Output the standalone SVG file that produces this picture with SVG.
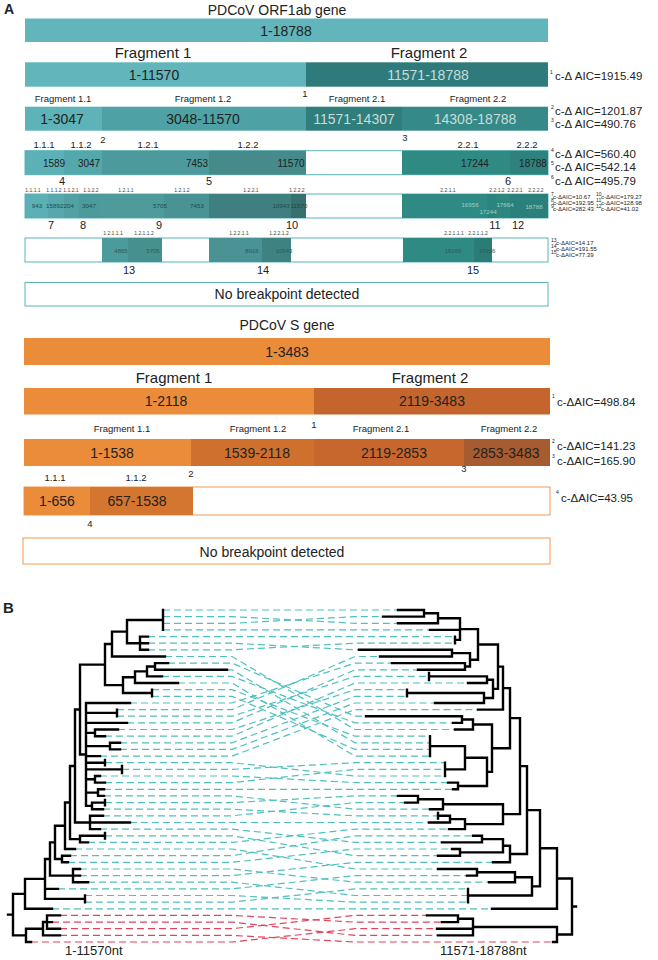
<svg xmlns="http://www.w3.org/2000/svg" width="658" height="960" viewBox="0 0 658 960">
<style>
text{font-family:"Liberation Sans",Arial,sans-serif;fill:#222}
.c{text-anchor:middle}
.h{font-size:14px}
.f{font-size:15px}
.s{font-size:9.5px}
.n{font-size:11px}
.a{font-size:11.5px}
.ts{font-size:5px;fill:#444}
.tn{font-size:6.2px;fill:#1f4a4a}
.tt{font-size:6px}
.sup{font-size:5px}
.lt{fill:#c8dcdb}
.ob{fill:#fff;stroke:#5ab4b8;stroke-width:1}
.oo{fill:#fff;stroke:#ee9a55;stroke-width:1}
.tree{fill:none;stroke:#000;stroke-width:2.4;stroke-linecap:square}
.cy{fill:none;stroke:#4fc0bd;stroke-width:1.2;stroke-dasharray:7 4}
.rd{fill:none;stroke:#e0475c;stroke-width:1.2;stroke-dasharray:7 4}
</style>

<g id="labelA"><text x="4" y="14" font-size="14" font-weight="bold">A</text></g>
<g id="labelB"><text x="3" y="613" font-size="15" font-weight="bold">B</text></g>

<g id="orf-title"><text x="277" y="15" class="c h">PDCoV ORF1ab gene</text></g>
<g id="orf-row0"><rect x="25" y="18.5" width="523" height="23.5" fill="#62b5bb"/><text x="286" y="35.5" class="c h">1-18788</text></g>
<g id="orf-frag-labels"><text x="153" y="58" class="c f">Fragment 1</text><text x="429" y="58" class="c f">Fragment 2</text></g>
<g id="orf-row1">
<rect x="25" y="62.3" width="281" height="24.4" fill="#62b5bb"/>
<rect x="306" y="62.3" width="242" height="24.4" fill="#2f7b7b"/>
<text x="154" y="80" class="c h">1-11570</text><text x="428" y="80" class="c h lt">11571-18788</text>
<text x="550" y="74" class="sup">1</text><text x="555" y="80" class="a">c-Δ AIC=1915.49</text>
</g>
<g id="orf-row2-labels">
<text x="63" y="102" class="c s">Fragment 1.1</text><text x="203" y="102" class="c s">Fragment 1.2</text>
<text x="305" y="97" class="c s">1</text>
<text x="357" y="102" class="c s">Fragment 2.1</text><text x="478" y="102" class="c s">Fragment 2.2</text>
</g>
<g id="orf-row2">
<rect x="25" y="106.7" width="77" height="24" fill="#5db3b8"/>
<rect x="102" y="106.7" width="204" height="24" fill="#4ea2a5"/>
<rect x="306" y="106.7" width="96" height="24" fill="#2f7e7c"/>
<rect x="402" y="106.7" width="146" height="24" fill="#358a87"/>
<text x="62" y="124" class="c h">1-3047</text><text x="203" y="124" class="c h">3048-11570</text>
<text x="354" y="124" class="c h lt">11571-14307</text><text x="475" y="124" class="c h lt">14308-18788</text>
<text x="551" y="109" class="sup">2</text><text x="555" y="115" class="a">c-Δ AIC=1201.87</text>
<text x="551" y="122" class="sup">3</text><text x="555" y="128" class="a">c-Δ AIC=490.76</text>
</g>
<g id="orf-row3-labels">
<text x="44" y="148" class="c s">1.1.1</text><text x="81" y="148" class="c s">1.1.2</text>
<text x="103" y="143" class="c s">2</text>
<text x="148" y="148" class="c s">1.2.1</text><text x="248" y="148" class="c s">1.2.2</text>
<text x="405" y="141" class="c s">3</text>
<text x="468" y="148" class="c s">2.2.1</text><text x="527" y="148" class="c s">2.2.2</text>
</g>
<g id="orf-row3">
<rect x="25" y="150.7" width="523" height="24" class="ob"/>
<rect x="25" y="150.7" width="39" height="24" fill="#5cb1b7"/>
<rect x="64" y="150.7" width="38" height="24" fill="#54a7ab"/>
<rect x="102" y="150.7" width="107" height="24" fill="#4d9a9c"/>
<rect x="209" y="150.7" width="97" height="24" fill="#468a8b"/>
<rect x="402" y="150.7" width="108" height="24" fill="#2f8a84"/>
<rect x="510" y="150.7" width="38" height="24" fill="#2d827d"/>
<text x="54" y="166.5" class="c" font-size="10">1589</text><text x="89" y="166.5" class="c" font-size="10">3047</text>
<text x="197" y="166.5" class="c" font-size="10">7453</text><text x="291" y="166.5" class="c" font-size="10">11570</text>
<text x="475" y="166.5" class="c" font-size="10">17244</text><text x="533" y="166.5" class="c" font-size="10">18788</text>
<text x="551" y="152" class="sup">4</text><text x="555" y="158" class="a">c-Δ AIC=560.40</text>
<text x="551" y="165" class="sup">5</text><text x="555" y="171" class="a">c-Δ AIC=542.14</text>
<text x="551" y="179" class="sup">6</text><text x="555" y="185" class="a">c-Δ AIC=495.79</text>
</g>
<g id="orf-bp-4-6"><text x="62" y="185" class="c n">4</text><text x="209" y="185" class="c n">5</text><text x="508" y="185" class="c n">6</text></g>
<g id="orf-row4-labels">
<text x="33" y="191.5" class="c ts">1.1.1.1</text><text x="54" y="191.5" class="c ts">1.1.1.2</text>
<text x="71" y="191.5" class="c ts">1.1.2.1</text><text x="91" y="191.5" class="c ts">1.1.2.2</text>
<text x="126" y="191.5" class="c ts">1.2.1.1</text><text x="182" y="191.5" class="c ts">1.2.1.2</text>
<text x="251" y="191.5" class="c ts">1.2.2.1</text><text x="297" y="191.5" class="c ts">1.2.2.2</text>
<text x="448" y="191.5" class="c ts">2.2.1.1</text><text x="497" y="191.5" class="c ts">2.2.1.2</text>
<text x="515" y="191.5" class="c ts">2.2.2.1</text><text x="536" y="191.5" class="c ts">2.2.2.2</text>
</g>
<g id="orf-row4">
<rect x="25" y="194" width="523" height="24" class="ob"/>
<rect x="25" y="194" width="23" height="24" fill="#5cb0b5"/>
<rect x="48" y="194" width="16" height="24" fill="#56a8ac"/>
<rect x="64" y="194" width="15" height="24" fill="#51a1a5"/>
<rect x="79" y="194" width="23" height="24" fill="#4d9a9d"/>
<rect x="102" y="194" width="62" height="24" fill="#4f9b9c"/>
<rect x="164" y="194" width="45" height="24" fill="#4a9394"/>
<rect x="209" y="194" width="82" height="24" fill="#407f80"/>
<rect x="291" y="194" width="15" height="24" fill="#37706f"/>
<rect x="402" y="194" width="85" height="24" fill="#2e8a83"/>
<rect x="487" y="194" width="9" height="24" fill="#2c847e"/>
<rect x="496" y="194" width="14" height="24" fill="#2e877f"/>
<rect x="510" y="194" width="38" height="24" fill="#2c807b"/>
<text x="37" y="208" class="c tn">943</text><text x="53" y="208" class="c tn">1589</text>
<text x="67" y="208" class="c tn">2204</text><text x="89" y="208" class="c tn">3047</text>
<text x="160" y="208" class="c tn">5705</text><text x="197" y="208" class="c tn">7453</text>
<text x="281" y="208" class="c tn">10943</text><text x="299" y="208" class="c tn">11570</text>
<text x="470" y="207" class="c tn" style="fill:#9fcfca">16956</text><text x="505" y="207" class="c tn" style="fill:#9fcfca">17664</text>
<text x="488" y="213.5" class="c tn" style="fill:#9fcfca">17244</text><text x="534" y="209" class="c tn" style="fill:#9fcfca">18788</text>
<text x="551" y="196" class="sup" font-size="4">7</text><text x="553" y="199" class="tt">c-ΔAIC=10.67</text>
<text x="551" y="202" class="sup" font-size="4">8</text><text x="553" y="205" class="tt">c-ΔAIC=192.95</text>
<text x="551" y="208" class="sup" font-size="4">9</text><text x="553" y="211" class="tt">c-ΔAIC=282.43</text>
<text x="596" y="196" class="sup" font-size="4">10</text><text x="601" y="199" class="tt">c-ΔAIC=179.27</text>
<text x="596" y="202" class="sup" font-size="4">11</text><text x="601" y="205" class="tt">c-ΔAIC=128.98</text>
<text x="596" y="208" class="sup" font-size="4">12</text><text x="601" y="211" class="tt">c-ΔAIC=41.02</text>
</g>
<g id="orf-bp-7-12">
<text x="51" y="229" class="c n">7</text><text x="83" y="229" class="c n">8</text><text x="159" y="229" class="c n">9</text>
<text x="292" y="229" class="c n">10</text><text x="495" y="229" class="c n">11</text><text x="518" y="229" class="c n">12</text>
</g>
<g id="orf-row5-labels">
<text x="113" y="235" class="c ts">1.2.1.1.1</text><text x="144" y="235" class="c ts">1.2.1.1.2</text>
<text x="239" y="235" class="c ts">1.2.2.1.1</text><text x="279" y="235" class="c ts">1.2.2.1.2</text>
<text x="454" y="235" class="c ts">2.2.1.1.1</text><text x="478" y="235" class="c ts">2.2.1.1.2</text>
</g>
<g id="orf-row5">
<rect x="25" y="238" width="523" height="24" class="ob"/>
<rect x="102" y="238" width="26" height="24" fill="#4c9b9c"/>
<rect x="128" y="238" width="34" height="24" fill="#479090"/>
<rect x="209" y="238" width="53" height="24" fill="#4a9293"/>
<rect x="262" y="238" width="29" height="24" fill="#3f8282"/>
<rect x="403" y="238" width="71" height="24" fill="#2e8a83"/>
<rect x="474" y="238" width="18" height="24" fill="#2a7d77"/>
<text x="121" y="252.5" class="c tt" style="fill:#2b5a5a">4865</text><text x="153" y="252.5" class="c tt" style="fill:#2b5a5a">5705</text>
<text x="252" y="252.5" class="c tt" style="fill:#2b5a5a">8916</text><text x="284" y="252.5" class="c tt" style="fill:#2b5a5a">10943</text>
<text x="453" y="252.5" class="c tt" style="fill:#2b5a5a">16160</text><text x="487" y="252.5" class="c tt" style="fill:#2b5a5a">16956</text>
<text x="551" y="242" class="sup" font-size="4">13</text><text x="556" y="245" class="tt">c-ΔAIC=14.17</text>
<text x="551" y="248" class="sup" font-size="4">14</text><text x="556" y="251" class="tt">c-ΔAIC=191.55</text>
<text x="551" y="254" class="sup" font-size="4">15</text><text x="556" y="257" class="tt">c-ΔAIC=77.39</text>
</g>
<g id="orf-bp-13-15"><text x="129" y="274" class="c n">13</text><text x="263" y="274" class="c n">14</text><text x="473" y="274" class="c n">15</text></g>
<g id="orf-nobp"><rect x="25" y="282.5" width="523" height="23.5" class="ob"/><text x="287" y="299" class="c h">No breakpoint detected</text></g>

<g id="s-title"><text x="287" y="330" class="c h">PDCoV S gene</text></g>
<g id="s-row0"><rect x="24" y="338" width="526" height="27" fill="#ea8c3a"/><text x="287" y="357" class="c h">1-3483</text></g>
<g id="s-frag-labels"><text x="174" y="383" class="c f">Fragment 1</text><text x="430" y="383" class="c f">Fragment 2</text></g>
<g id="s-row1">
<rect x="24" y="388" width="290" height="26.5" fill="#ea8c3a"/>
<rect x="314" y="388" width="236" height="26.5" fill="#c4652e"/>
<text x="166" y="406" class="c h">1-2118</text><text x="432" y="406" class="c h">2119-3483</text>
<text x="552" y="398" class="sup">1</text><text x="557" y="406" class="a">c-ΔAIC=498.84</text>
</g>
<g id="s-row2-labels">
<text x="122" y="432" class="c s">Fragment 1.1</text><text x="258" y="432" class="c s">Fragment 1.2</text>
<text x="314" y="428" class="c s">1</text>
<text x="381" y="432" class="c s">Fragment 2.1</text><text x="509" y="432" class="c s">Fragment 2.2</text>
</g>
<g id="s-row2">
<rect x="24" y="439" width="167" height="27" fill="#ea8c3a"/>
<rect x="191" y="439" width="123" height="27" fill="#cf702f"/>
<rect x="314" y="439" width="150" height="27" fill="#c8672d"/>
<rect x="464" y="439" width="86" height="27" fill="#a75b30"/>
<text x="112" y="458" class="c h">1-1538</text><text x="257" y="458" class="c h">1539-2118</text>
<text x="394" y="458" class="c h">2119-2853</text><text x="506" y="458" class="c h">2853-3483</text>
<text x="552" y="443" class="sup">2</text><text x="557" y="450" class="a">c-ΔAIC=141.23</text>
<text x="552" y="458" class="sup">3</text><text x="557" y="465" class="a">c-ΔAIC=165.90</text>
</g>
<g id="s-row3-labels">
<text x="55" y="481" class="c s">1.1.1</text><text x="136" y="481" class="c s">1.1.2</text>
<text x="191" y="477" class="c s">2</text><text x="464" y="472" class="c s">3</text>
</g>
<g id="s-row3">
<rect x="24" y="487" width="526" height="28" class="oo"/>
<rect x="24" y="487" width="66" height="28" fill="#ea8c3a"/>
<rect x="90" y="487" width="103" height="28" fill="#d4762f"/>
<text x="57" y="506" class="c h">1-656</text><text x="137" y="506" class="c h">657-1538</text>
<text x="556" y="494" class="sup">4</text><text x="561" y="502" class="a">c-ΔAIC=43.95</text>
</g>
<g id="s-bp-4"><text x="90" y="527" class="c s">4</text></g>
<g id="s-nobp"><rect x="23" y="538" width="527" height="26" class="oo"/><text x="272" y="557" class="c h">No breakpoint detected</text></g>

<g id="connectors">
<path class="cy" d="M163 610H232L355 610H398"/>
<path class="cy" d="M163 616.6H232L355 623.3H398"/>
<path class="cy" d="M163 623.3H232L355 616.6H383"/>
<path class="cy" d="M163 629.9H232L355 629.9H430"/>
<path class="cy" d="M148 636.6H232L355 636.6H455"/>
<path class="cy" d="M148 643.2H232L355 649.8H359"/>
<path class="cy" d="M148 649.8H232L355 643.2H455"/>
<path class="cy" d="M165 656.5H232L355 729.5H455"/>
<path class="cy" d="M168 663.1H232L355 716.2H366"/>
<path class="cy" d="M227 669.8H232L355 742.8H430"/>
<path class="cy" d="M162 676.4H232L355 722.9H453"/>
<path class="cy" d="M178 683H232L355 756.1H430"/>
<path class="cy" d="M152 689.7H232L355 736.2H430"/>
<path class="cy" d="M152 696.3H232L355 749.4H430"/>
<path class="cy" d="M130 703H232L355 663.1H392"/>
<path class="cy" d="M117 709.6H232L355 656.5H380"/>
<path class="cy" d="M117 716.2H232L355 676.4H429"/>
<path class="cy" d="M127 722.9H232L355 669.8H418"/>
<path class="cy" d="M118 729.5H232L355 689.7H407"/>
<path class="cy" d="M105 736.2H232L355 683H468"/>
<path class="cy" d="M120 742.8H232L355 696.3H407"/>
<path class="cy" d="M120 749.4H232L355 703H435"/>
<path class="cy" d="M100 756.1H232L355 709.6H478"/>
<path class="cy" d="M105 762.7H232L355 776H445"/>
<path class="cy" d="M122 769.4H232L355 762.7H445"/>
<path class="cy" d="M100 776H232L355 782.6H448"/>
<path class="cy" d="M105 782.6H232L355 769.4H445"/>
<path class="cy" d="M104 789.3H232L355 789.3H453"/>
<path class="cy" d="M104 795.9H232L355 809.2H430"/>
<path class="cy" d="M105 802.6H232L355 795.9H398"/>
<path class="cy" d="M103 809.2H232L355 815.8H438"/>
<path class="cy" d="M103 815.8H232L355 802.6H405"/>
<path class="cy" d="M130 822.5H232L355 822.5H429"/>
<path class="cy" d="M100 829.1H232L355 842.4H442"/>
<path class="cy" d="M105 835.8H232L355 855.7H438"/>
<path class="cy" d="M88 842.4H232L355 829.1H449"/>
<path class="cy" d="M75 849H232L355 869H438"/>
<path class="cy" d="M70 855.7H232L355 835.8H473"/>
<path class="cy" d="M68 862.3H232L355 849H452"/>
<path class="cy" d="M80 869H232L355 882.2H489"/>
<path class="cy" d="M80 875.6H232L355 862.3H493"/>
<path class="cy" d="M88 882.2H232L355 895.5H468"/>
<path class="cy" d="M58 888.9H232L355 875.6H467"/>
<path class="cy" d="M85 895.5H232L355 902.2H468"/>
<path class="cy" d="M85 902.2H232L355 888.9H468"/>
<path class="cy" d="M52 908.8H232L355 908.8H492"/>
<path class="rd" d="M60 915.4H232L355 922.1H442"/>
<path class="rd" d="M52 922.1H232L355 935.4H438"/>
<path class="rd" d="M60 928.7H232L355 915.4H427"/>
<path class="rd" d="M60 935.4H232L355 942H553"/>
<path class="rd" d="M31 942H232L355 928.7H437"/>
</g>

<g id="tree-left">
<path class="tree" d="M163 610V629.9
M140 636.6V649.8M140 636.6H148M140 643.2H148M140 649.8H148
M127 620V643.2M127 620H163M127 643.2H140
M112 631.6V656.5M112 631.6H127M112 656.5H165
M155 663.1V669.8M155 663.1H168M155 669.8H227
M147 666.45V676.4M147 666.45H155M147 676.4H162
M135 671.4V683M135 671.4H147M135 683H178
M152 689.7V696.3
M123 677.2V693M123 677.2H135M123 693H152
M105 644.05V685.1M105 644.05H112M105 685.1H123
M86 703H130
M117 709.6V716.2M86 712.9H117
M86 722.9H127
M95 729.5V736.2M95 729.5H118M95 736.2H105M86 732.9H95
M110 742.8V749.4M110 742.8H120M110 749.4H120M86 746.1H110
M86 756.1H100
M86 762.7H105M105 760V765.4
M86 769.4H122M122 766V773
M95 776V782.6M95 776H100M95 782.6H105M86 779.3H95
M98 789.3V795.9M98 789.3H104M98 795.9H104M86 792.6H98
M92 802.6V809.2M92 802.6H105M92 809.2H103M105 800V805.2M86 805.9H92
M86 703V805.9
M80 664.6V754.45M80 664.6H105M80 754.45H86
M90 815.8V829.1M90 815.8H103M90 822.5H130M90 829.1H100
M75 709.5V822.5M75 709.5H80M75 822.5H90
M80 835.8V842.4M80 835.8H105M80 842.4H88M105 833V838.6
M70 766V839.1M70 766H75M70 839.1H80
M65 802.55V849M65 802.55H70M65 849H75
M62 855.7V862.3M62 855.7H70M62 862.3H68
M55 825.8V859M55 825.8H65M55 859H62
M73 869V882.2M73 869H80M73 875.6H80M73 882.2H88
M50 842.4V875.6M50 842.4H55M50 875.6H73
M85 895.5V902.2
M45 859V898.9M45 859H50M45 888.9H58M45 898.9H85
M25 878.9V908.8M25 878.9H45M25 908.8H52
M47 915.4V928.7M47 915.4H60M47 922.1H52M47 928.7H60
M43 922.05V935.4M43 922.05H47M43 935.4H60
M26 928.7V942M26 928.7H43M26 942H31
M13 893.85V935.35M13 893.85H25M13 935.35H26M8 914.6H13"/>
</g>

<g id="tree-right">
<path class="tree" d="M424 610V616.6M424 610H398M424 616.6H383
M438 613.3V623.3M438 613.3H424M438 623.3H398
M455 636.6V643.2
M460 618.3V639.9M460 618.3H438M460 629.9H430M460 639.9H455
M452 649.8V656.5M452 649.8H359M452 656.5H380
M465 663.1V669.8M465 663.1H392M465 669.8H418
M470 653.15V666.45M470 653.15H452M470 666.45H465
M478 629.1V659.8M478 629.1H460M478 659.8H470
M487 676.4V683M487 676.4H429M487 683H468M429 673V680
M484 693V703M484 693H407M484 703H435M407 689.7V696.3
M493 679.7V698M493 679.7H487M493 698H484
M498 644.45V688.85M498 644.45H478M498 688.85H493
M503 666.65V709.6M503 666.65H498M503 709.6H478
M462 716.2V722.9M462 716.2H366M462 722.9H453
M473 719.55V729.5M473 719.55H462M473 729.5H455
M430 736.2V756.1
M445 762.7V776
M465 746.15V769.35M465 746.15H430M465 769.35H445
M458 782.6V789.3M458 782.6H448M458 789.3H453
M487 757.75V785.95M487 757.75H465M487 785.95H458
M492 724.5V771.85M492 724.5H473M492 771.85H487
M418 795.9V802.6M418 795.9H398M418 802.6H405
M443 799.25V809.2M443 799.25H418M443 809.2H430
M450 815.8V822.5M450 815.8H438M450 822.5H429M438 813V818.6
M465 819.15V829.1M465 819.15H450M465 829.1H449
M503 804.2V824.1M503 804.2H443M503 824.1H465
M482 835.8V842.4M482 835.8H473M482 842.4H442
M460 849V855.7M460 849H452M460 855.7H438
M503 839.1V852.35M503 839.1H482M503 852.35H460
M510 845.7V862.3M510 845.7H503M510 862.3H493
M477 869V875.6M477 869H438M477 875.6H467
M515 872.3V882.2M515 872.3H477M515 882.2H489
M468 888.9V902.2
M532 877.25V895.55M532 877.25H515M532 895.55H468
M510 688.1V748.2M510 688.1H503M510 748.2H492
M520 718.15V814.15M520 718.15H510M520 814.15H503
M527 766.15V854M527 766.15H520M527 854H510
M540 810.1V886.4M540 810.1H527M540 886.4H532
M557 848.25V908.8M557 848.25H540M557 908.8H492
M458 915.4V922.1M458 915.4H427M458 922.1H442
M473 918.75V935.4M473 918.75H458M473 928.7H437M473 935.4H438
M557 927.05V942M557 927.05H473M557 942H553
M572 878.5V934.5M572 878.5H557M572 934.5H557M572 906.5H576"/>
</g>

<g id="tree-labels">
<text x="65" y="955" font-size="13">1-11570nt</text>
<text x="440" y="955" font-size="13">11571-18788nt</text>
</g>
</svg>
